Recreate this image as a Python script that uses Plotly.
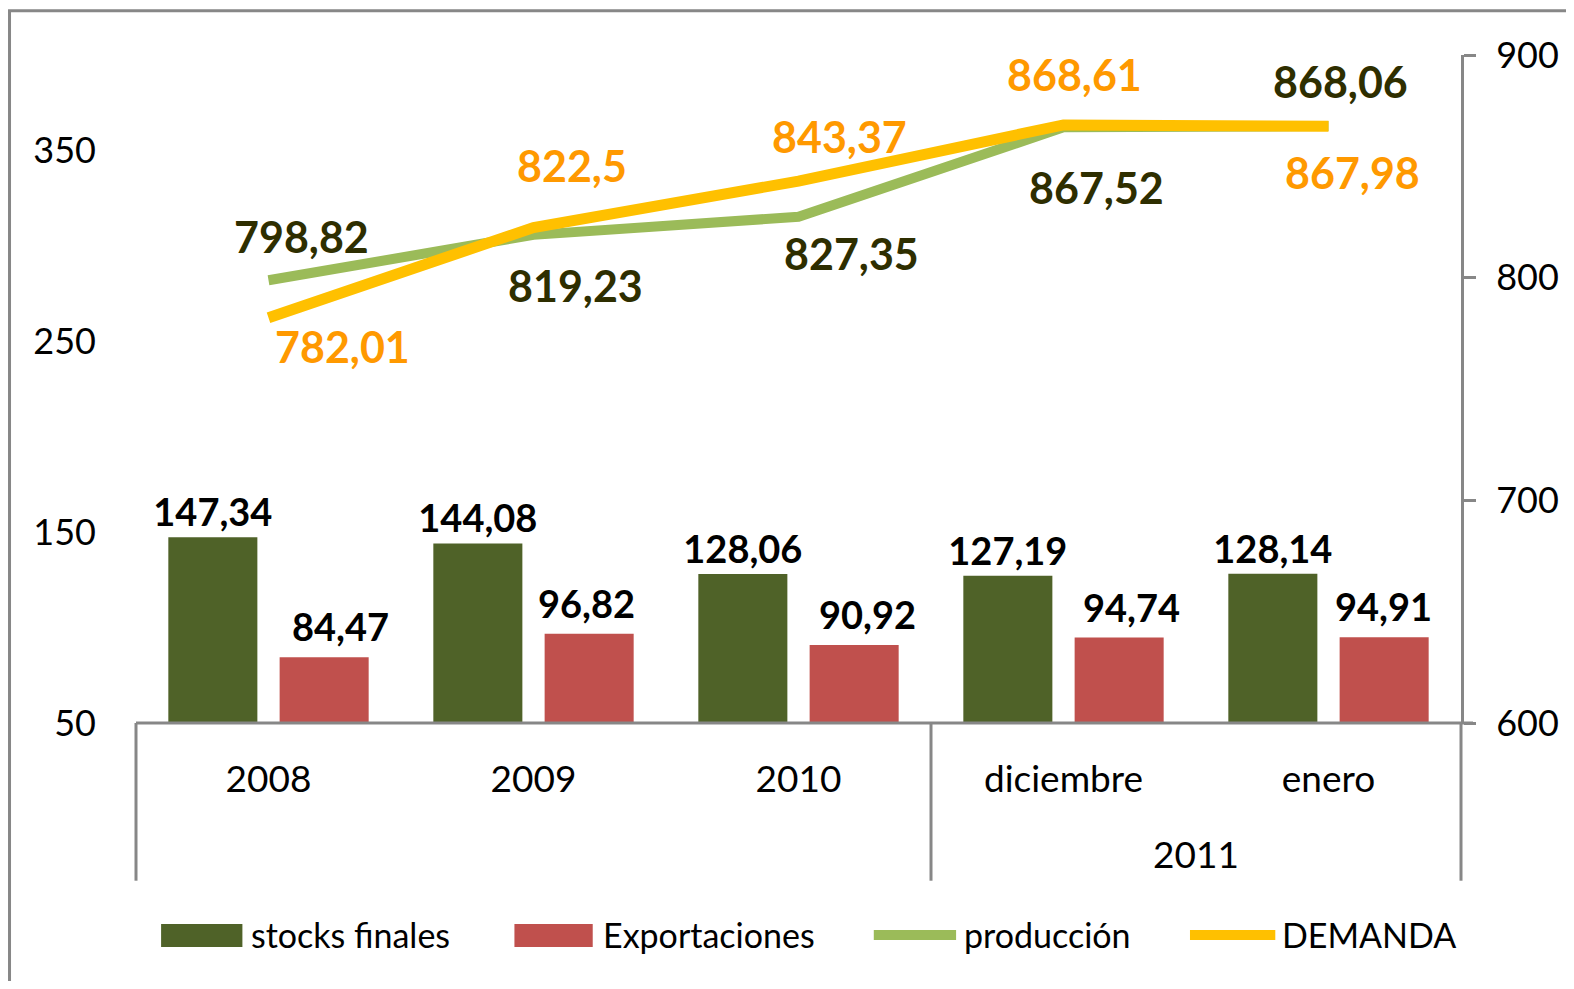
import plotly.graph_objects as go

# ---------------- data ----------------
categories = ["2008", "2009", "2010", "diciembre", "enero"]
group_label = "2011"
stocks_finales = [147.34, 144.08, 128.06, 127.19, 128.14]
exportaciones = [84.47, 96.82, 90.92, 94.74, 94.91]
produccion = [798.82, 819.23, 827.35, 867.52, 868.06]
demanda = [782.01, 822.5, 843.37, 868.61, 867.98]
series_names = ["stocks finales", "Exportaciones", "producción", "DEMANDA"]
left_ticks = [50, 150, 250, 350]
right_ticks = [600, 700, 800, 900]

# ---------------- style ----------------
OFF = 8  # default page body margin
S = 1574 / 1568  # measured positions were taken on a 1568-wide view
W, H = 1574 - 2 * OFF, 989 - 2 * OFF
PL, PR, PT, PB = 135 * S, 1455 * S, 55 * S, 720 * S  # plot area in page pixels
FONT = "Lato"
C_STOCK = "#4F6228"
C_EXP = "#C0504D"
C_PROD = "#9BBB59"
C_DEM = "#FFC000"
C_PROD_TXT = "#2E2E00"
C_DEM_TXT = "#FF9900"
GRAY = "#878787"


def fmt(v):
    s = f"{v:.2f}".rstrip("0").rstrip(".")
    return s.replace(".", ",")


def px_x(p):
    return (p * S - PL) / (PR - PL)


def px_y(p):
    return (PB - p * S) / (PB - PT)


x = list(range(len(categories)))

fig = go.Figure()
fig.add_trace(go.Bar(
    x=x, y=[v - 50 for v in stocks_finales], base=50, name=series_names[0],
    marker=dict(color=C_STOCK, line=dict(width=0)),
    text=[fmt(v) for v in stocks_finales], textposition="outside", constraintext="none",
    textfont=dict(family=FONT, size=38, color="#000000", weight="bold"),
    cliponaxis=False, showlegend=False))
fig.add_trace(go.Bar(
    x=x, y=[v - 50 for v in exportaciones], base=50, name=series_names[1],
    marker=dict(color=C_EXP, line=dict(width=0)),
    cliponaxis=False, showlegend=False))
fig.add_trace(go.Scatter(
    x=x, y=produccion, yaxis="y2", mode="lines", name=series_names[2],
    line=dict(color=C_PROD, width=10), showlegend=False))
fig.add_trace(go.Scatter(
    x=x, y=demanda, yaxis="y2", mode="lines", name=series_names[3],
    line=dict(color=C_DEM, width=11), showlegend=False))

annotations = []
# Exportaciones labels (Excel placed some of them slightly right of the bar centre)
exp_xshift = [72, 53, 69, 68, 55]
for i, v in enumerate(exportaciones):
    annotations.append(dict(x=i, y=v, xref="x", yref="y", text=fmt(v), showarrow=False,
                            xshift=exp_xshift[i], yshift=31,
                            xanchor="center", yanchor="middle",
                            font=dict(family=FONT, size=38, color="#000000", weight="bold")))

# line data labels (offsets in pixels)
prod_off = [(33, 44), (42, -51), (53, -37), (33, -60), (12, 45)]
dem_off = [(74, -29), (38, 62), (41, 45), (11, 50), (24, -46)]
for i, v in enumerate(produccion):
    annotations.append(dict(x=i, y=v, xref="x", yref="y2", text=fmt(v), showarrow=False,
                            xshift=prod_off[i][0], yshift=prod_off[i][1],
                            xanchor="center", yanchor="middle",
                            font=dict(family=FONT, size=43, color=C_PROD_TXT, weight="bold")))
for i, v in enumerate(demanda):
    annotations.append(dict(x=i, y=v, xref="x", yref="y2", text=fmt(v), showarrow=False,
                            xshift=dem_off[i][0], yshift=dem_off[i][1],
                            xanchor="center", yanchor="middle",
                            font=dict(family=FONT, size=43, color=C_DEM_TXT, weight="bold")))

# second-level category label
annotations.append(dict(x=3.5, y=px_y(850), xref="x", yref="paper", text=group_label,
                        showarrow=False, xanchor="center", yanchor="middle",
                        font=dict(family=FONT, size=37, color="#000000")))

shapes = []
# outer chart border
shapes.append(dict(type="rect", xref="paper", yref="paper", x0=px_x(9), x1=px_x(1600),
                   y0=px_y(1020), y1=px_y(11), line=dict(color=GRAY, width=3), layer="below"))
# category axis line
shapes.append(dict(type="line", xref="paper", yref="paper", x0=0, x1=px_x(1467),
                   y0=0, y1=0, line=dict(color=GRAY, width=3)))
# category dividers
for xp in [0, 1]:
    shapes.append(dict(type="line", xref="paper", yref="paper", x0=xp, x1=xp,
                       y0=px_y(877), y1=0, line=dict(color=GRAY, width=3)))
shapes.append(dict(type="line", xref="x", yref="paper", x0=2.5, x1=2.5,
                   y0=px_y(877), y1=0, line=dict(color=GRAY, width=3)))

# custom legend
leg_y = px_y(931)
legend_items = [
    ("rect", C_STOCK, 160, 241, 248),
    ("rect", C_EXP, 512, 590, 598),
    ("line", C_PROD, 870, 952, 958),
    ("line", C_DEM, 1185, 1270, 1275),
]
for (kind, col, a, b, tx), name in zip(legend_items, series_names):
    if kind == "rect":
        shapes.append(dict(type="rect", xref="paper", yref="paper", x0=px_x(a), x1=px_x(b),
                           y0=px_y(943), y1=px_y(920), fillcolor=col, line=dict(width=0)))
    else:
        shapes.append(dict(type="line", xref="paper", yref="paper", x0=px_x(a), x1=px_x(b),
                           y0=leg_y, y1=leg_y, line=dict(color=col, width=10)))
    annotations.append(dict(x=px_x(tx), y=leg_y, xref="paper", yref="paper", text=name,
                            xanchor="left", yanchor="middle", showarrow=False,
                            font=dict(family=FONT, size=34, color="#000000")))

fig.update_layout(
    width=W, height=H, autosize=False,
    margin=dict(l=PL - OFF, r=W - (PR - OFF), t=PT - OFF, b=H - (PB - OFF), pad=0,
                autoexpand=False),
    paper_bgcolor="white", plot_bgcolor="white",
    barmode="group", bargap=0.16, bargroupgap=0.2,
    font=dict(family=FONT, size=36, color="#000000"),
    xaxis=dict(range=[-0.5, 4.5], tickvals=x, ticktext=categories, showgrid=False,
               zeroline=False, showline=False, ticks="", ticklabelstandoff=31,
               automargin=False,
               tickfont=dict(family=FONT, size=37, color="#000000")),
    yaxis=dict(range=[50, 400], tickvals=left_ticks, showgrid=False, zeroline=False,
               showline=False, ticks="", ticklabelstandoff=39, automargin=False,
               tickfont=dict(family=FONT, size=36, color="#000000")),
    yaxis2=dict(range=[600, 900], tickvals=right_ticks, overlaying="y", side="right",
                showgrid=False, zeroline=False, showline=True, linecolor=GRAY, linewidth=3,
                ticks="outside", ticklen=12, tickwidth=3, tickcolor=GRAY,
                ticklabelstandoff=13, automargin=False,
                tickfont=dict(family=FONT, size=36, color="#000000")),
    showlegend=False,
    annotations=annotations,
    shapes=shapes,
)

fig.write_html("out.html")
